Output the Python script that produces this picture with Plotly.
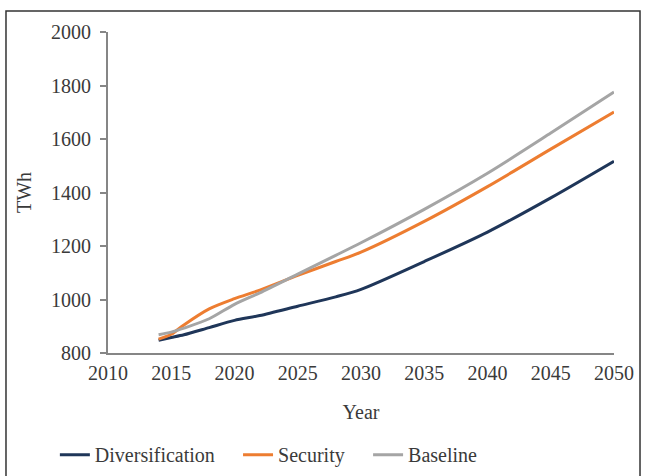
import plotly.graph_objects as go

# -----------------------
# Data (TWh by scenario)
# -----------------------

years = [2014, 2015, 2016, 2018, 2020, 2022, 2025, 2028, 2030, 2035, 2040, 2045, 2050]

diversification = [848, 858, 868, 895, 922, 940, 975, 1010, 1038, 1142, 1252, 1380, 1517]
security = [852, 870, 905, 965, 1003, 1035, 1090, 1142, 1177, 1292, 1422, 1562, 1701]
baseline = [868, 878, 893, 928, 982, 1025, 1095, 1165, 1212, 1337, 1472, 1622, 1776]

x_ticks = [2010, 2015, 2020, 2025, 2030, 2035, 2040, 2045, 2050]
y_ticks = [800, 1000, 1200, 1400, 1600, 1800, 2000]

# name, values, colour, legend id, legend x (paper)
series = [
    ("Diversification", diversification, "#1f3659", "legend", -0.105),
    ("Security", security, "#ed7d31", "legend2", 0.257),
    ("Baseline", baseline, "#a5a5a5", "legend3", 0.514),
]

font_family = "Liberation Serif, Times New Roman, serif"
text_color = "#3a3a3a"

fig = go.Figure()

for name, values, color, leg, _ in series:
    fig.add_trace(go.Scatter(
        x=years,
        y=values,
        name=name,
        mode="lines",
        legend=leg,
        line=dict(color=color, width=3, shape="spline", smoothing=0.8),
    ))

legends = {}
for _, _, _, leg, lx in series:
    legends[leg] = dict(
        orientation="h",
        x=lx,
        xanchor="left",
        y=-0.256,
        yanchor="top",
        font=dict(family=font_family, size=20, color=text_color),
        itemwidth=30,
        bgcolor="rgba(0,0,0,0)",
    )

fig.update_layout(
    width=645,
    height=476,
    margin=dict(l=108, r=31, t=32, b=123, autoexpand=False),
    paper_bgcolor="white",
    plot_bgcolor="white",
    font=dict(family=font_family, size=20, color=text_color),
    showlegend=True,
    **legends,
    xaxis=dict(
        range=[2010, 2050],
        tickvals=x_ticks,
        ticks="",
        showgrid=False,
        zeroline=False,
        showline=True,
        linecolor="#868686",
        linewidth=2,
        ticklabelstandoff=1,
        tickfont=dict(family=font_family, size=20, color=text_color),
        title=dict(text="Year", font=dict(family=font_family, size=20, color=text_color), standoff=22),
    ),
    yaxis=dict(
        range=[800, 2000],
        tickvals=y_ticks,
        ticks="outside",
        ticklen=6,
        tickcolor="#868686",
        tickwidth=2,
        showgrid=False,
        zeroline=False,
        showline=True,
        linecolor="#868686",
        linewidth=2,
        ticklabelstandoff=5,
        tickfont=dict(family=font_family, size=20, color=text_color),
        title=dict(text="TWh", font=dict(family=font_family, size=20, color=text_color), standoff=14),
    ),
    shapes=[
        dict(
            type="rect",
            xref="paper", yref="paper",
            x0=-0.2016, x1=1.0514,
            y0=-0.40, y1=1.0654,
            line=dict(color="#333333", width=1.5),
            fillcolor="rgba(0,0,0,0)",
            layer="below",
        )
    ],
)

fig.write_html(
    "out.html",
    config={"displayModeBar": False},
    post_script="document.body.style.margin='0';",
)
